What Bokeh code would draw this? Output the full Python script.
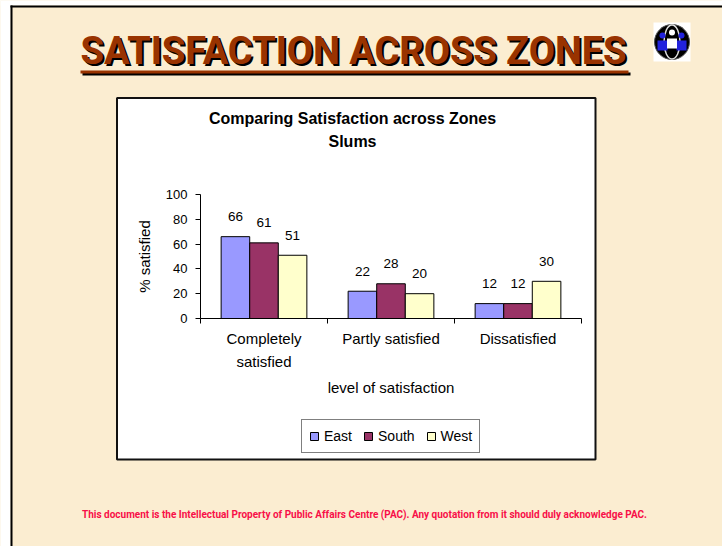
from bokeh.plotting import figure
from bokeh.models import Range1d, LinearAxis, FixedTicker, ColumnDataSource, Legend, LegendItem
from bokeh.transform import dodge
from bokeh.core.properties import value
from bokeh.embed import file_html
from bokeh.resources import INLINE

# ---------------- data ----------------
categories = ["Completely\nsatisfied", "Partly satisfied", "Dissatisfied"]
zones = ["East", "South", "West"]
east = [66, 22, 12]
south = [61, 28, 12]
west = [51, 20, 30]
y_ticks = [0, 20, 40, 60, 80, 100]
slide_title = "SATISFACTION ACROSS ZONES"
chart_title = ["Comparing Satisfaction across Zones", "Slums"]
x_title = "level of satisfaction"
y_title = "% satisfied"
footer = ("This document is the Intellectual Property of Public Affairs Centre (PAC). "
          "Any quotation from it should duly acknowledge PAC.")

# ---------------- style / layout ----------------
zone_colors = ["#9999FF", "#993366", "#FFFFCC"]
SLIDE = "#FBEDD1"
TITLE_COL = "#993300"
FOOT_COL = "#F80F48"
FONT = value("Liberation Sans")
HEAD = value("Roboto")

W, H = 722, 546
AX_X0, AX_Y0 = 200.0, 318.0      # picture pixel of the chart origin
PX_CAT, PX_Y = 127.0, 1.24       # pixels per category / per percent


def X(px):
    return (px - AX_X0) / PX_CAT


def Y(py):
    return (AX_Y0 - py) / PX_Y


p = figure(width=W, height=H, output_backend="svg", toolbar_location=None,
           x_range=Range1d(X(0), X(W)), y_range=Range1d(Y(H), Y(0)),
           x_axis_type=None, y_axis_type=None, min_border=0)
p.outline_line_color = None
p.background_fill_color = SLIDE
p.border_fill_color = SLIDE

# slide frame (white margin + black edge)
p.quad(left=[X(0)], right=[X(10)], top=[Y(0)], bottom=[Y(H)], fill_color="white", line_color=None)
p.quad(left=[X(0)], right=[X(W)], top=[Y(0)], bottom=[Y(5)], fill_color="white", line_color=None)
p.quad(left=[X(10)], right=[X(12)], top=[Y(5)], bottom=[Y(H)], fill_color="black", line_color=None)
p.quad(left=[X(10)], right=[X(W)], top=[Y(5)], bottom=[Y(7)], fill_color="black", line_color=None)

# slide title with shadow + underline
p.quad(left=[X(82)], right=[X(630)], top=[Y(72)], bottom=[Y(75)], fill_color="black", line_color=None)
p.quad(left=[X(80)], right=[X(628)], top=[Y(70)], bottom=[Y(73)], fill_color=TITLE_COL, line_color=None)
p.text(x=[X(82)], y=[Y(52.5)], text=[slide_title], text_color="black", text_font=HEAD,
       text_font_style="bold", text_font_size="38px", text_align="left", text_baseline="middle")
p.text(x=[X(80)], y=[Y(50.5)], text=[slide_title], text_color=TITLE_COL, text_font=HEAD,
       text_font_style="bold", text_font_size="38px", text_align="left", text_baseline="middle")

# logo (globe)
p.quad(left=[X(653)], right=[X(690)], top=[Y(22)], bottom=[Y(61)], fill_color="white", line_color=None)
p.scatter(x=[X(671.5)], y=[Y(41.5)], marker="circle", size=35, fill_color="black", line_color="#555555")
p.ellipse(x=[X(671.5)], y=[Y(41.5)], width=16, height=34, width_units="screen", height_units="screen",
          fill_color=None, line_color="#DDDDDD", line_width=1.5)
p.scatter(x=[X(662), X(681)], y=[Y(35), Y(35)], marker="circle", size=6, fill_color="#2222DD", line_color=None)
p.scatter(x=[X(662), X(681)], y=[Y(45), Y(45)], marker="square", size=10, fill_color="#2222DD", line_color=None)
p.scatter(x=[X(671.5)], y=[Y(32)], marker="circle", size=6, fill_color="white", line_color=None)
p.scatter(x=[X(671.5)], y=[Y(43)], marker="square", size=10, fill_color="white", line_color=None)

# chart box
p.quad(left=[X(116.5)], right=[X(595)], top=[Y(97.5)], bottom=[Y(459)], fill_color="white",
       line_color="#111111", line_width=2)

# chart title
p.text(x=[X(352)], y=[Y(118)], text=[chart_title[0]], text_font=FONT, text_font_style="bold",
       text_font_size="16px", text_align="center", text_baseline="middle", text_color="black")
p.text(x=[X(352)], y=[Y(140.5)], text=[chart_title[1]], text_font=FONT, text_font_style="bold",
       text_font_size="16px", text_align="center", text_baseline="middle", text_color="black")

# bars
LABEL_GAP = 20.0 / PX_Y
src = ColumnDataSource(dict(
    x=[i + 0.5 for i in range(len(categories))],
    East=east, South=south, West=west,
    East_t=[str(v) for v in east], South_t=[str(v) for v in south], West_t=[str(v) for v in west],
    East_y=[v + LABEL_GAP for v in east], South_y=[v + LABEL_GAP for v in south],
    West_y=[v + LABEL_GAP for v in west],
))
BAR_W = 0.225
offsets = [-BAR_W, 0.0, BAR_W]
bar_renderers = []
for z, col, off in zip(zones, zone_colors, offsets):
    r = p.vbar(x=dodge("x", off, range=p.x_range), top=z, width=BAR_W, source=src,
               fill_color=col, line_color="black", line_width=1)
    bar_renderers.append(r)
    p.text(x=dodge("x", off, range=p.x_range), y=z + "_y", text=z + "_t", source=src,
           text_font=FONT, text_font_size="13.5px", text_align="center", text_baseline="middle",
           text_color="black")

# axes
yaxis = LinearAxis(fixed_location=0, bounds=(0, 100), ticker=FixedTicker(ticks=y_ticks),
                   axis_label=y_title)
yaxis.major_tick_out = 5
yaxis.major_tick_in = 0
yaxis.minor_tick_line_color = None
yaxis.major_label_standoff = 8
yaxis.major_label_text_font = "Liberation Sans"
yaxis.major_label_text_font_size = "13px"
yaxis.major_label_text_color = "black"
yaxis.axis_label_text_font = "Liberation Sans"
yaxis.axis_label_text_font_style = "normal"
yaxis.axis_label_text_font_size = "15px"
yaxis.axis_label_text_color = "black"
yaxis.axis_label_standoff = 10
p.add_layout(yaxis, "left")

xaxis = LinearAxis(fixed_location=0, bounds=(0, len(categories)),
                   ticker=FixedTicker(ticks=list(range(len(categories) + 1))))
xaxis.major_tick_out = 5
xaxis.major_tick_in = 0
xaxis.minor_tick_line_color = None
xaxis.major_label_text_color = None
p.add_layout(xaxis, "below")

xlab = LinearAxis(fixed_location=0, bounds=(0, len(categories)),
                  ticker=FixedTicker(ticks=[i + 0.5 for i in range(len(categories))]),
                  major_label_overrides={i + 0.5: c for i, c in enumerate(categories)},
                  axis_label=x_title)
xlab.axis_line_color = None
xlab.major_tick_line_color = None
xlab.minor_tick_line_color = None
xlab.major_tick_out = 0
xlab.major_label_standoff = 11
xlab.major_label_text_font = "Liberation Sans"
xlab.major_label_text_font_size = "15px"
xlab.major_label_text_line_height = 1.4
xlab.major_label_text_color = "black"
xlab.axis_label_text_font = "Liberation Sans"
xlab.axis_label_text_font_style = "normal"
xlab.axis_label_text_font_size = "15px"
xlab.axis_label_text_color = "black"
xlab.axis_label_standoff = 6
p.add_layout(xlab, "below")

# legend
legend = Legend(items=[LegendItem(label=z, renderers=[r]) for z, r in zip(zones, bar_renderers)],
                location=(301, 93), orientation="horizontal")
legend.border_line_color = "black"
legend.border_line_width = 1
legend.background_fill_color = "white"
legend.background_fill_alpha = 1
legend.glyph_width = 10
legend.glyph_height = 10
legend.label_standoff = 5
legend.spacing = 11
legend.padding = 7
legend.margin = 0
legend.label_height = 18
legend.label_text_font = "Liberation Sans"
legend.label_text_font_size = "14px"
legend.label_text_color = "black"
p.add_layout(legend)

# footer
p.text(x=[X(364)], y=[Y(513.5)], text=[footer], text_font=HEAD, text_font_style="bold",
       text_font_size="10px", text_align="center", text_baseline="middle", text_color=FOOT_COL)

open("out.html", "w").write(file_html(p, INLINE))
